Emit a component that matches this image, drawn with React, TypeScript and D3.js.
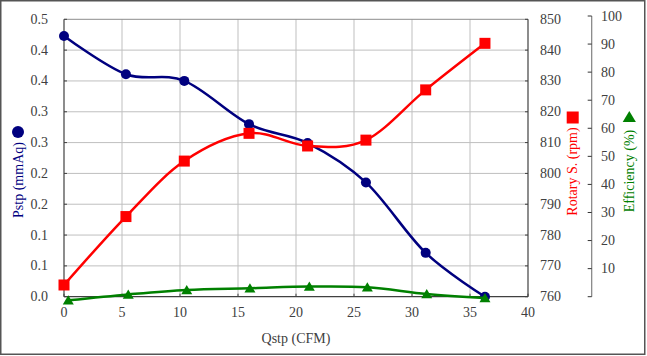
import React from "react";
import * as d3 from "d3";

// ---- data ----
const qstp = [0, 5.34, 10.37, 15.95, 21.0, 26.03, 31.18, 36.29];
const pstp = [0.47, 0.401, 0.389, 0.311, 0.277, 0.206, 0.079, 0.0];
const rpm = [763.8, 786.0, 804.0, 813.0, 808.9, 810.8, 827.1, 842.2];
const qstpEff = [0.37, 5.54, 10.58, 16.03, 21.15, 26.15, 31.27, 36.29];
const efficiency = [-1.3, 0.8, 2.4, 3.0, 3.6, 3.35, 0.96, -0.5];

const xTicks = [0, 5, 10, 15, 20, 25, 30, 35, 40];
const pstpTickLabels = ["0.0", "0.1", "0.1", "0.2", "0.2", "0.3", "0.3", "0.4", "0.4", "0.5"];
const rpmTicks = [760, 770, 780, 790, 800, 810, 820, 830, 840, 850];
const effTicks = [0, 10, 20, 30, 40, 50, 60, 70, 80, 90, 100];

const W = 647;
const H = 356;
const L = 64, R = 528, T = 19.3, B = 296.7;
const FONT = "Liberation Serif, DejaVu Serif, serif";
const NAVY = "#00007F";
const RED = "#FF0000";
const GREEN = "#008000";
const TXT = "#404040";

export default function App() {
  const x = d3.scaleLinear().domain([0, 40]).range([L, R]);
  const yP = d3.scaleLinear().domain([0, 0.5]).range([B, T]);
  const yR = d3.scaleLinear().domain([760, 850]).range([B, T]);
  const yE = d3.scaleLinear().domain([0, 100]).range([B, 16]);

  const pTicks = pstpTickLabels.map((_, i) => (i * 0.5) / 9);

  const curve = d3.curveCardinal.tension(0);
  const lineP = d3.line<number>().x((_, i) => x(qstp[i])).y((d) => yP(d)).curve(curve);
  const lineR = d3.line<number>().x((_, i) => x(qstp[i])).y((d) => yR(d)).curve(curve);
  const lineE = d3.line<number>().x((_, i) => x(qstpEff[i])).y((d) => yE(d)).curve(curve);

  const tri = (cx: number, cy: number, s: number) =>
    `M${cx},${cy - s * 0.5}L${cx + s * 0.55},${cy + s * 0.42}L${cx - s * 0.55},${cy + s * 0.42}Z`;

  const effAxisX = 591.7;
  const ts = { fontFamily: FONT, fontSize: 14 } as React.CSSProperties;

  return (
    <svg
      width={W}
      height={H}
      style={{ position: "absolute", left: 0, top: 0, background: "#fff", fontFamily: FONT }}
    >
      <rect x={0.75} y={0.75} width={644} height={353.5} fill="#fff" stroke="#555" strokeWidth={1.5} />

      {/* grid */}
      {xTicks.slice(1, -1).map((t) => (
        <line key={"gx" + t} x1={x(t)} x2={x(t)} y1={T} y2={B} stroke="#BFBFBF" strokeWidth={1} />
      ))}
      {pTicks.slice(1, -1).map((t, i) => (
        <line key={"gy" + i} x1={L} x2={R} y1={yP(t)} y2={yP(t)} stroke="#BFBFBF" strokeWidth={1} />
      ))}

      {/* plot frame */}
      <line x1={L} x2={R} y1={T} y2={T} stroke="#8C8C8C" strokeWidth={1} />
      <line x1={L} x2={L} y1={T} y2={B} stroke="#404040" strokeWidth={1.2} />
      <line x1={L} x2={R} y1={B} y2={B} stroke="#404040" strokeWidth={1.2} />
      <line x1={R} x2={R} y1={T} y2={B} stroke="#404040" strokeWidth={1.2} />

      {/* ticks */}
      {pTicks.map((t, i) => (
        <line key={"lt" + i} x1={L} x2={L + 3} y1={yP(t)} y2={yP(t)} stroke="#404040" />
      ))}
      {rpmTicks.map((t) => (
        <line key={"rt" + t} x1={R - 3} x2={R} y1={yR(t)} y2={yR(t)} stroke="#404040" />
      ))}
      {xTicks.map((t) => (
        <line key={"xt" + t} x1={x(t)} x2={x(t)} y1={B} y2={B - 3} stroke="#404040" />
      ))}

      {/* efficiency axis */}
      <line x1={effAxisX} x2={effAxisX} y1={yE(100)} y2={yE(0)} stroke="#808080" strokeWidth={1.2} />
      {effTicks.map((t) => (
        <line key={"et" + t} x1={effAxisX - 4} x2={effAxisX} y1={yE(t)} y2={yE(t)} stroke="#333" />
      ))}

      {/* tick labels */}
      {pTicks.map((t, i) => (
        <text key={"ll" + i} x={48} y={yP(t)} textAnchor="end" dominantBaseline="central" style={ts} fill={TXT}>
          {pstpTickLabels[i]}
        </text>
      ))}
      {rpmTicks.map((t) => (
        <text key={"rl" + t} x={540} y={yR(t)} textAnchor="start" dominantBaseline="central" style={ts} fill={TXT}>
          {t}
        </text>
      ))}
      {effTicks.slice(1).map((t) => (
        <text key={"el" + t} x={601} y={yE(t)} textAnchor="start" dominantBaseline="central" style={ts} fill={TXT}>
          {t}
        </text>
      ))}
      {xTicks.map((t) => (
        <text key={"xl" + t} x={x(t)} y={312} textAnchor="middle" dominantBaseline="central" style={ts} fill={TXT}>
          {t}
        </text>
      ))}

      {/* axis titles */}
      <text x={296} y={338} textAnchor="middle" dominantBaseline="central" style={ts} fill={TXT}>
        Qstp (CFM)
      </text>
      <text
        transform={`translate(18,180) rotate(-90)`}
        textAnchor="middle"
        dominantBaseline="central"
        style={ts}
        fill={NAVY}
      >
        Pstp (mmAq)
      </text>
      <circle cx={18} cy={132} r={6} fill={NAVY} />
      <text
        transform={`translate(572.7,171.5) rotate(-90)`}
        textAnchor="middle"
        dominantBaseline="central"
        style={ts}
        fill={RED}
      >
        Rotary S. (rpm)
      </text>
      <rect x={572.7 - 6} y={117.5 - 6} width={12} height={12} fill={RED} />
      <text
        transform={`translate(629.3,171) rotate(-90)`}
        textAnchor="middle"
        dominantBaseline="central"
        style={ts}
        fill={GREEN}
      >
        Efficiency (%)
      </text>
      <path d={tri(629.3, 117, 12)} fill={GREEN} />

      {/* series */}
      <path d={lineP(pstp) || ""} fill="none" stroke={NAVY} strokeWidth={2.5} />
      {pstp.map((d, i) => (
        <circle key={"pc" + i} cx={x(qstp[i])} cy={yP(d)} r={5} fill={NAVY} />
      ))}
      <path d={lineR(rpm) || ""} fill="none" stroke={RED} strokeWidth={2.5} />
      {rpm.map((d, i) => (
        <rect key={"rs" + i} x={x(qstp[i]) - 5.5} y={yR(d) - 5.5} width={11} height={11} fill={RED} />
      ))}
      <path d={lineE(efficiency) || ""} fill="none" stroke={GREEN} strokeWidth={2.5} />
      {efficiency.map((d, i) => (
        <path key={"em" + i} d={tri(x(qstpEff[i]), yE(d), 10)} fill={GREEN} />
      ))}
    </svg>
  );
}
